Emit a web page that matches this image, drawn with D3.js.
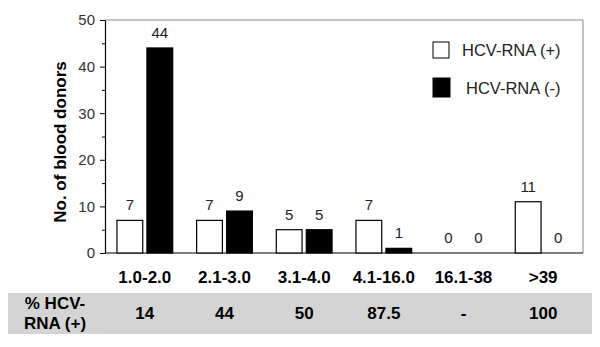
<!doctype html>
<html>
<head>
<meta charset="utf-8">
<title>HCV-RNA blood donors</title>
<script src="https://cdn.jsdelivr.net/npm/d3@7"></script>
<style>
body { margin: 0; background: white; }
svg { display: block; font-family: Arial, "Liberation Sans", sans-serif; }
</style>
</head>
<body>
<div id="chart"></div>
<script>
// data
var categories = ["1.0-2.0", "2.1-3.0", "3.1-4.0", "4.1-16.0", "16.1-38", ">39"];
var positive = [7, 7, 5, 7, 0, 11];
var negative = [44, 9, 5, 1, 0, 0];
var percentPositive = ["14", "44", "50", "87.5", "-", "100"];
var seriesNames = ["HCV-RNA (+)", "HCV-RNA (-)"];
var yTicks = [0, 10, 20, 30, 40, 50];

var W = 600, H = 347;
var margin = { top: 20, right: 17, bottom: 94, left: 105 };
var width = W - margin.left - margin.right,
  height = H - margin.top - margin.bottom;

var svg = d3.select("#chart").append("svg")
  .attr("width", W)
  .attr("height", H);

// grey table row (drawn first so the numbers sit on top)
svg.append("rect")
  .attr("x", 8).attr("y", 293)
  .attr("width", 584).attr("height", 41)
  .attr("fill", "#d4d4d4");

var g = svg.append("g")
  .attr("transform", "translate(" + margin.left + "," + margin.top + ")");

var x0 = d3.scaleBand().domain(categories).range([0, width]);
var x1 = d3.scaleBand().domain(seriesNames)
  .range([0, x0.bandwidth() * 0.7]).paddingInner(0.14);
var offset = x0.bandwidth() * 0.15;
var y = d3.scaleLinear().domain([0, 50]).range([height, 0]);

var rows = categories.map(function(c, i) {
  return { cat: c, vals: [positive[i], negative[i]] };
});

// frame (top and right in grey)
g.append("line").attr("x1", 0).attr("x2", width).attr("y1", 0).attr("y2", 0)
  .attr("stroke", "#8a8a8a").attr("stroke-width", 1);
g.append("line").attr("x1", width).attr("x2", width).attr("y1", 0).attr("y2", height)
  .attr("stroke", "#8a8a8a").attr("stroke-width", 1);

// minor ticks
g.append("g")
  .call(d3.axisLeft(y).tickValues(d3.range(5, 50, 10)).tickSize(3).tickFormat(""))
  .call(function(s) { s.select(".domain").remove(); });

// y axis
var yAxis = g.append("g")
  .call(d3.axisLeft(y).tickValues(yTicks).tickSize(5).tickSizeOuter(0).tickPadding(5));
yAxis.selectAll("text").attr("font-size", "15px").attr("fill", "#333")
  .attr("font-family", "Arial, 'Liberation Sans', sans-serif");
yAxis.select(".domain").attr("stroke-width", 1.2);

// x baseline
g.append("line").attr("x1", 0).attr("x2", width).attr("y1", height).attr("y2", height)
  .attr("stroke", "#000").attr("stroke-width", 1.2);

// bars
var groups = g.selectAll("g.grp").data(rows).enter().append("g")
  .attr("class", "grp")
  .attr("transform", function(d) { return "translate(" + (x0(d.cat) + offset) + ",0)"; });

groups.selectAll("rect").data(function(d) {
    return d.vals.map(function(v, i) { return { key: seriesNames[i], v: v }; });
  })
  .enter().filter(function(d) { return d.v > 0; }).append("rect")
  .attr("x", function(d) { return x1(d.key); })
  .attr("y", function(d) { return y(d.v); })
  .attr("width", x1.bandwidth())
  .attr("height", function(d) { return height - y(d.v); })
  .attr("fill", function(d) { return d.key === seriesNames[0] ? "#fff" : "#000"; })
  .attr("stroke", "#000")
  .attr("stroke-width", 1.2);

groups.selectAll("text.val").data(function(d) {
    return d.vals.map(function(v, i) { return { key: seriesNames[i], v: v }; });
  })
  .enter().append("text")
  .attr("class", "val")
  .attr("x", function(d) { return x1(d.key) + x1.bandwidth() / 2; })
  .attr("y", function(d) { return y(d.v) - 10; })
  .attr("text-anchor", "middle")
  .attr("font-size", "15px")
  .attr("fill", "#222")
  .text(function(d) { return d.v; });

// category labels
g.selectAll("text.cat").data(categories).enter().append("text")
  .attr("class", "cat")
  .attr("x", function(d) { return x0(d) + x0.bandwidth() / 2; })
  .attr("y", height + 30)
  .attr("text-anchor", "middle")
  .attr("font-size", "17px")
  .attr("font-weight", "bold")
  .text(function(d) { return d; });

// y title
svg.append("text")
  .attr("transform", "rotate(-90)")
  .attr("x", -142)
  .attr("y", 66)
  .attr("text-anchor", "middle")
  .attr("font-size", "17px")
  .attr("font-weight", "bold")
  .text("No. of blood donors");

var rowLabel = svg.append("text")
  .attr("text-anchor", "middle")
  .attr("font-size", "17px")
  .attr("font-weight", "bold");
rowLabel.append("tspan").attr("x", 55).attr("y", 309).text("% HCV-");
rowLabel.append("tspan").attr("x", 55).attr("y", 329).text("RNA (+)");

g.selectAll("text.pct").data(categories).enter().append("text")
  .attr("class", "pct")
  .attr("x", function(d) { return x0(d) + x0.bandwidth() / 2; })
  .attr("y", 319 - margin.top)
  .attr("text-anchor", "middle")
  .attr("font-size", "17px")
  .attr("font-weight", "bold")
  .text(function(d, i) { return percentPositive[i]; });

// legend
var legend = svg.append("g");
var legendItems = [
  { name: seriesNames[0], fill: "#fff", x: 433, y: 42, w: 16, h: 16, tx: 462 },
  { name: seriesNames[1], fill: "#000", x: 433, y: 78, w: 17, h: 19, tx: 466 }
];
legendItems.forEach(function(d) {
  legend.append("rect")
    .attr("x", d.x).attr("y", d.y).attr("width", d.w).attr("height", d.h)
    .attr("fill", d.fill).attr("stroke", "#000").attr("stroke-width", 1);
  legend.append("text")
    .attr("x", d.tx).attr("y", d.y + d.h / 2 + 6)
    .attr("font-size", "16.5px")
    .attr("fill", "#222")
    .text(d.name);
});
</script>
</body>
</html>
